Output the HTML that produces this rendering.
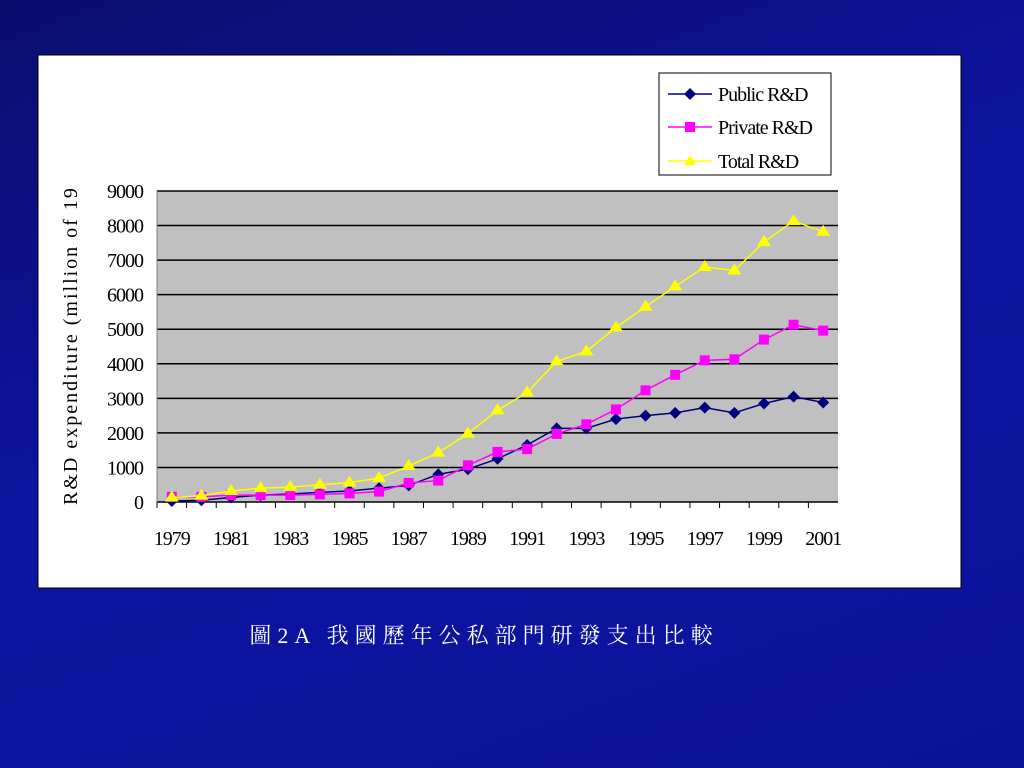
<!DOCTYPE html>
<html><head><meta charset="utf-8"><style>
body{margin:0;width:1024px;height:768px;overflow:hidden;background:linear-gradient(160deg,#0a0e6e 0%,#0d14a0 45%,#0b129a 100%);font-family:"Liberation Serif",serif}
</style></head><body>
<svg width="1024" height="768" style="position:absolute;left:0;top:0">
<defs><clipPath id="yclip"><rect x="40" y="180" width="60" height="340"/></clipPath></defs>
<rect x="38" y="55" width="923" height="533" fill="#fff" stroke="#000"/>
<rect x="157" y="191" width="681" height="311" fill="#c0c0c0"/>
<g id="grid"></g><g id="axes"></g><g id="series"></g>
<g clip-path="url(#yclip)">
<text transform="translate(77,505) rotate(-90)" font-size="20" letter-spacing="2" font-family="Liberation Serif,serif" fill="#000">R&amp;D expenditure (million of 19</text>
</g>
<g>
<rect x="659" y="73" width="172" height="102" fill="#fff" stroke="#000"/>
<line x1="668" y1="94" x2="712" y2="94" stroke="#000080" stroke-width="1.5"/><path d="M690 88l6 6-6 6-6-6z" fill="#000080"/>
<text x="718" y="101" font-size="20" letter-spacing="-1">Public R&amp;D</text>
<line x1="668" y1="127" x2="712" y2="127" stroke="#ff00ff" stroke-width="1.5"/><rect x="685" y="122" width="10" height="10" fill="#ff00ff"/>
<text x="718" y="134" font-size="20" letter-spacing="-1">Private R&amp;D</text>
<line x1="668" y1="161" x2="712" y2="161" stroke="#ffff00" stroke-width="1.5"/><path d="M690 155l6 10h-12z" fill="#ffff00"/>
<text x="718" y="168" font-size="20" letter-spacing="-1">Total R&amp;D</text>
</g>
<text x="484" y="643" text-anchor="middle" font-size="22" letter-spacing="6" fill="#fff" font-family="Liberation Serif,Noto Serif CJK SC,serif">圖2A 我國歷年公私部門研發支出比較</text>
</svg>
<script>
const years=[1979,1980,1981,1982,1983,1984,1985,1986,1987,1988,1989,1990,1991,1992,1993,1994,1995,1996,1997,1998,1999,2000,2001];
const publicRD=[30,50,130,200,230,280,320,400,480,800,950,1250,1650,2130,2130,2400,2500,2580,2730,2580,2850,3050,2880];
const privateRD=[150,150,200,200,200,220,250,300,550,620,1060,1450,1530,1970,2250,2680,3230,3680,4100,4130,4700,5130,4960];
const totalRD=[130,180,320,400,430,500,560,690,1040,1430,1980,2650,3170,4070,4360,5050,5650,6240,6800,6700,7520,8130,7820];
const yTicks=[0,1000,2000,3000,4000,5000,6000,7000,8000,9000];
const NS="http://www.w3.org/2000/svg";
const X0=157,X1=838,Y0=502,Y1=191,bw=(X1-X0)/years.length;
const x=i=>X0+(i+0.5)*bw, y=v=>Y0-(v/9000)*(Y0-Y1);
function mk(t,a,p){const e=document.createElementNS(NS,t);for(const k in a)e.setAttribute(k,a[k]);p.appendChild(e);return e;}
const g=document.getElementById('grid'),ax=document.getElementById('axes'),s=document.getElementById('series');
yTicks.forEach(v=>{
 const l=mk('line',{x1:X0,x2:X1,y1:y(v),y2:y(v),stroke:'#000','stroke-width':1.5},g);
 
 
 const t=mk('text',{x:X0-14,y:y(v)+7,'text-anchor':'end','font-size':20,'letter-spacing':'-1'},ax);t.textContent=v;
 
 
});
mk('line',{x1:X0,x2:X0,y1:Y1,y2:Y0,stroke:'#808080'},ax);
years.forEach((yr,i)=>{
 mk('line',{x1:X0+i*bw,x2:X0+i*bw,y1:Y0,y2:Y0+6,stroke:'#000'},ax);
 if(i%2==0){const t=mk('text',{x:x(i),y:545,'text-anchor':'middle','font-size':20,'letter-spacing':'-1'},ax);t.textContent=yr;
 
 }
});
function series(data,color,shape,name){
 const pl=mk('polyline',{points:data.map((v,i)=>x(i)+','+y(v)).join(' '),fill:'none',stroke:color,'stroke-width':1.5},s);
 
 
 data.forEach((v,i)=>{const cx=x(i),cy=y(v);let m;
  if(shape==='d')m=mk('path',{d:`M${cx} ${cy-6}l6 6-6 6-6-6z`,fill:color},s);
  else if(shape==='s')m=mk('rect',{x:cx-5,y:cy-5,width:10,height:10,fill:color},s);
  else m=mk('path',{d:`M${cx} ${cy-7}l7 11h-14z`,fill:color},s);
  
  });
}
series(publicRD,'#000080','d','public-rd');
series(privateRD,'#ff00ff','s','private-rd');
series(totalRD,'#ffff00','t','total-rd');
</script>
</body></html>
